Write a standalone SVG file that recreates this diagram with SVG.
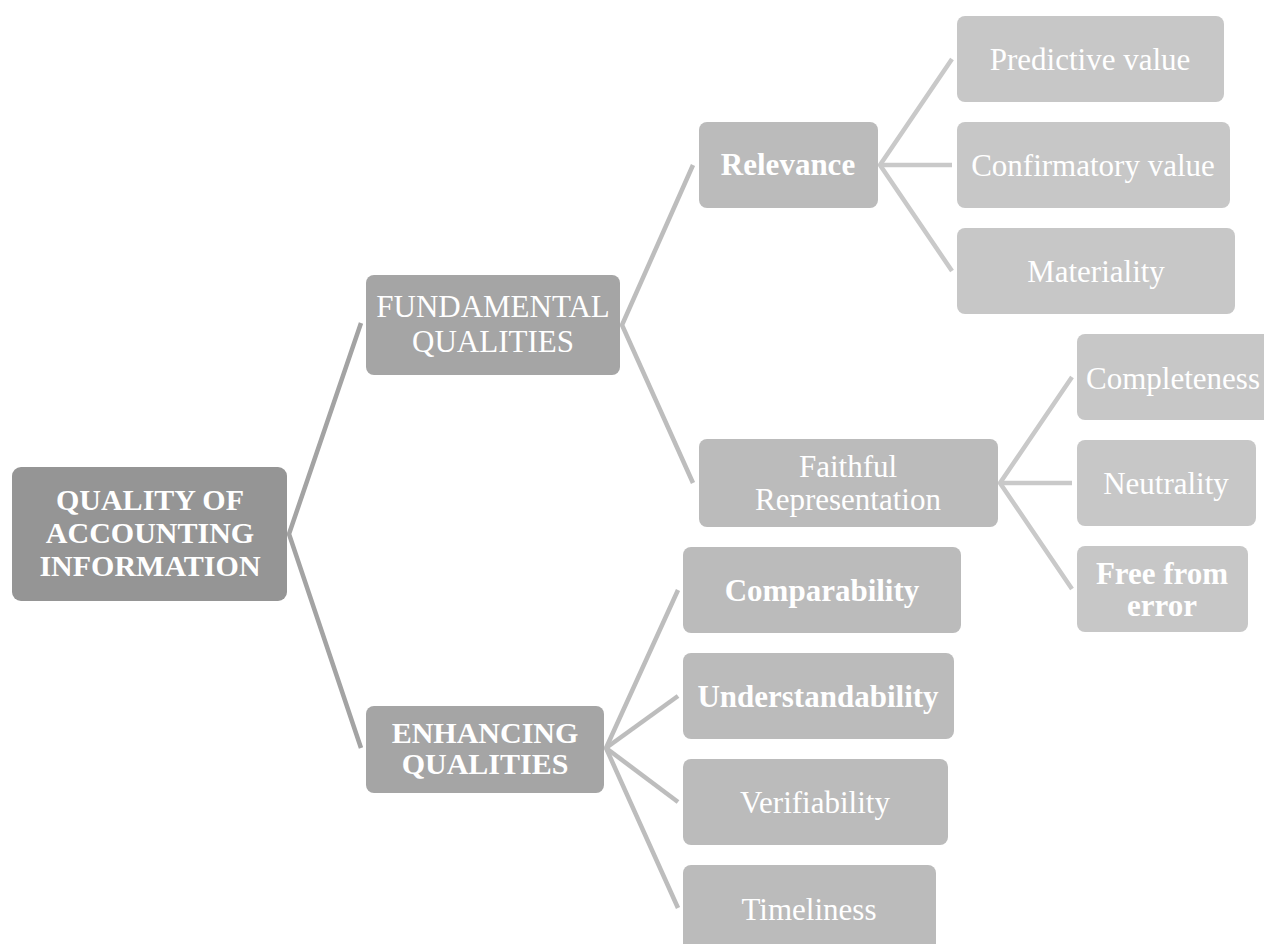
<svg xmlns="http://www.w3.org/2000/svg" width="1264" height="944" viewBox="0 0 1264 944">
  <style>
    .t { font-family: "Liberation Serif", "Times New Roman", serif; font-size: 31px; fill: #ffffff; text-anchor: middle; }
    .b { font-weight: bold; }
    .r { font-size: 30px; }
    .l0 { fill: #959595; }
    .l1 { fill: #a5a5a5; }
    .l2 { fill: #bbbbbb; }
    .l3 { fill: #c7c7c7; }
    .c0 { stroke: #a3a3a3; stroke-width: 4.5; fill: none; }
    .c1 { stroke: #bdbdbd; stroke-width: 4.5; fill: none; }
    .c2 { stroke: #c9c9c9; stroke-width: 4.5; fill: none; }
  </style>
  <rect width="1264" height="944" fill="#ffffff"/>

  <g id="connectors">
    <polyline class="c0" points="361,323 289,534 361,748"/>
    <polyline class="c1" points="693,165 622,325 693,483"/>
    <polyline class="c1" points="678,590 606,748 678,908"/>
    <line class="c1" x1="606" y1="748" x2="678" y2="696"/>
    <line class="c1" x1="606" y1="748" x2="678" y2="802"/>
    <polyline class="c2" points="952,59 880,165 952,271"/>
    <line class="c2" x1="880" y1="165" x2="952" y2="165"/>
    <polyline class="c2" points="1072,377 1000,483 1072,589"/>
    <line class="c2" x1="1000" y1="483" x2="1072" y2="483"/>
  </g>

  <g id="root">
    <rect class="l0" x="12" y="467" width="275" height="134" rx="9"/>
    <text class="t b r" x="150" y="510">QUALITY OF</text>
    <text class="t b r" x="150" y="543">ACCOUNTING</text>
    <text class="t b r" x="150" y="576">INFORMATION</text>
  </g>

  <g id="fundamental">
    <rect class="l1" x="366" y="275" width="254" height="100" rx="8"/>
    <text class="t" x="493" y="317">FUNDAMENTAL</text>
    <text class="t" x="493" y="352">QUALITIES</text>
  </g>

  <g id="enhancing">
    <rect class="l1" x="366" y="706" width="238" height="87" rx="8"/>
    <text class="t b r" x="485" y="743">ENHANCING</text>
    <text class="t b r" x="485" y="774">QUALITIES</text>
  </g>

  <g id="relevance">
    <rect class="l2" x="699" y="122" width="179" height="86" rx="8"/>
    <text class="t b" x="788" y="175">Relevance</text>
  </g>

  <g id="faithful">
    <rect class="l2" x="699" y="439" width="299" height="88" rx="8"/>
    <text class="t" x="848" y="477">Faithful</text>
    <text class="t" x="848" y="510">Representation</text>
  </g>

  <g id="predictive">
    <rect class="l3" x="957" y="16" width="267" height="86" rx="8"/>
    <text class="t" x="1090" y="70">Predictive value</text>
  </g>

  <g id="confirmatory">
    <rect class="l3" x="957" y="122" width="273" height="86" rx="8"/>
    <text class="t" x="1093" y="176">Confirmatory value</text>
  </g>

  <g id="materiality">
    <rect class="l3" x="957" y="228" width="278" height="86" rx="8"/>
    <text class="t" x="1096" y="282">Materiality</text>
  </g>

  <g id="completeness">
    <rect class="l3" x="1077" y="334" width="195" height="86" rx="8"/>
    <text class="t" x="1173" y="389">Completeness</text>
  </g>

  <g id="neutrality">
    <rect class="l3" x="1077" y="440" width="179" height="86" rx="8"/>
    <text class="t" x="1166" y="494">Neutrality</text>
  </g>

  <g id="free-from-error">
    <rect class="l3" x="1077" y="546" width="171" height="86" rx="8"/>
    <text class="t b" x="1162" y="584">Free from</text>
    <text class="t b" x="1162" y="616">error</text>
  </g>

  <g id="comparability">
    <rect class="l2" x="683" y="547" width="278" height="86" rx="8"/>
    <text class="t b" x="822" y="601">Comparability</text>
  </g>

  <g id="understandability">
    <rect class="l2" x="683" y="653" width="271" height="86" rx="8"/>
    <text class="t b" x="818" y="707">Understandability</text>
  </g>

  <g id="verifiability">
    <rect class="l2" x="683" y="759" width="265" height="86" rx="8"/>
    <text class="t" x="815" y="813">Verifiability</text>
  </g>

  <g id="timeliness">
    <rect class="l2" x="683" y="865" width="253" height="90" rx="8"/>
    <text class="t" x="809" y="920">Timeliness</text>
  </g>
</svg>
